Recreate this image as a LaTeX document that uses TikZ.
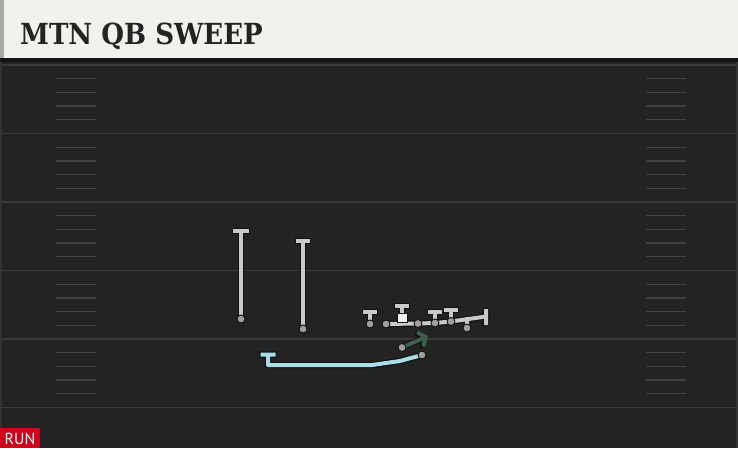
\documentclass[tikz,border=0pt]{standalone}
\usepackage{fontspec}
\usetikzlibrary{arrows.meta}
\newfontfamily\titlefont{DejaVu Serif}
\newfontfamily\tagfont{PT Sans}
\definecolor{headerbg}{HTML}{F3F1EB}
\definecolor{headerside}{HTML}{A8A8A8}
\definecolor{fieldbg}{HTML}{232323}
\definecolor{fieldedge}{HTML}{151515}
\definecolor{yardgray}{HTML}{3A3A3A}
\definecolor{hashgray}{HTML}{414141}
\definecolor{routegray}{HTML}{C9C9C9}
\definecolor{routeedge}{HTML}{121212}
\definecolor{dotgray}{HTML}{9E9E9E}
\definecolor{qbcyan}{HTML}{A9DEE8}
\definecolor{motiongreen}{HTML}{3E5F4C}
\definecolor{runred}{HTML}{D0021B}
\tikzset{yardline/.style={draw=yardgray,line width=1.6pt},
	hashmark/.style={draw=hashgray,line width=1.3pt},
	route/.style={draw=routegray,line width=4pt,line cap=rect,line join=round,
		preaction={draw=routeedge,line width=6.5pt,line cap=rect,line join=round}},
	qbroute/.style={route,draw=qbcyan},
	motion/.style={draw=motiongreen,line width=4pt,line join=round,
		-{Straight Barb[length=5pt,width=13pt,line cap=round]},
		preaction={draw=routeedge,line width=6pt,line join=round,
		-{Straight Barb[length=5pt,width=13pt,line cap=round]}}},
	player/.style={circle,fill=dotgray,draw=routeedge,line width=0.9pt,
		inner sep=0pt,minimum size=8pt},
	center/.style={rectangle,fill=white!94!black,draw=routeedge,line width=0.9pt,
		inner sep=0pt,minimum width=10pt,minimum height=9pt},
	title/.style={anchor=base west,inner sep=0pt,xscale=0.9,
		font=\titlefont\bfseries\fontsize{29}{29}\selectfont,text=fieldbg},
	tag/.style={inner sep=0pt,font=\tagfont\fontsize{16}{16}\selectfont,text=white}}

\begin{document}
\begin{tikzpicture}[x=1pt,y=-1pt]
\useasboundingbox (0,0) rectangle (738,448);
% field
\fill[fieldbg] (0,58) rectangle (738,448);
\fill[fieldedge] (0,58) rectangle (738,62);
\foreach \y in {65,133.5,202,270.5,339,407.5}
	\draw[yardline] (0,\y) -- (738,\y);
\foreach \y in {65,133.5,202,270.5,339}
	\foreach \k in {1,...,4} {
		\draw[hashmark] (56,\y+\k*13.7) -- (96,\y+\k*13.7);
		\draw[hashmark] (646,\y+\k*13.7) -- (686,\y+\k*13.7);
	}
\draw[yardgray!70!fieldbg,line width=1.5pt] (1,62) -- (1,448) (737,62) -- (737,448);
% header
\fill[headerbg] (4,0) rectangle (738,58);
\fill[headerside] (0,0) rectangle (4,58);
\node[title] (name) at (20,44) {MTN QB SWEEP};
% players
\coordinate (x1) at (241,319);
\coordinate (x2) at (303,329);
\coordinate (te) at (370,324);
\coordinate (lt) at (386,324);
\coordinate (c) at (402,318);
\coordinate (lg) at (418,323.5);
\coordinate (rg) at (435,323);
\coordinate (rt) at (451,321.5);
\coordinate (y) at (467,328);
\coordinate (rb) at (402,347.5);
\coordinate (qb) at (422,355);
% route ends
\coordinate (x1end) at (241,231);
\coordinate (x2end) at (303,241);
\coordinate (teend) at (370,312);
\coordinate (cend) at (402,306);
\coordinate (rgend) at (435,312);
\coordinate (rtend) at (451,310);
\coordinate (pullend) at (486,316.5);
\coordinate (rbend) at (428,336);
\coordinate (qbend) at (268,354.5);
% routes
\draw[route] (x1) -- (x1end) ++(-6,0) -- ++(12,0);
\draw[route] (x2) -- (x2end) ++(-5,0) -- ++(10,0);
\draw[route] (te) -- (teend) ++(-5,0) -- ++(10,0);
\draw[route] (c) -- (cend) ++(-5,0) -- ++(10,0);
\draw[route] (rg) -- (rgend) ++(-5,0) -- ++(10,0);
\draw[route] (rt) -- (rtend) ++(-5,0) -- ++(10,0);
\draw[route] (lt) -- (lg) -- (rg) -- (rt) -- (pullend) ++(0,-5.5) -- ++(0,12)
	(y) -- ++(0,-9);
\draw[qbroute] (qb) -- (400,361) -- (372,365) -- (268,365) -- (qbend)
	++(-5.5,0) -- ++(11,0);
\draw[motion] (rb) -- (rbend);
\foreach \p in {x1,x2,te,lt,lg,rg,rt,y,rb,qb}
	\node[player] (\p dot) at (\p) {};
\node[center] (cdot) at (c) {};
% play type
\fill[runred] (0,428) rectangle (40,448);
\node[tag] (run) at (20,438.5) {RUN};
\end{tikzpicture}
\end{document}
